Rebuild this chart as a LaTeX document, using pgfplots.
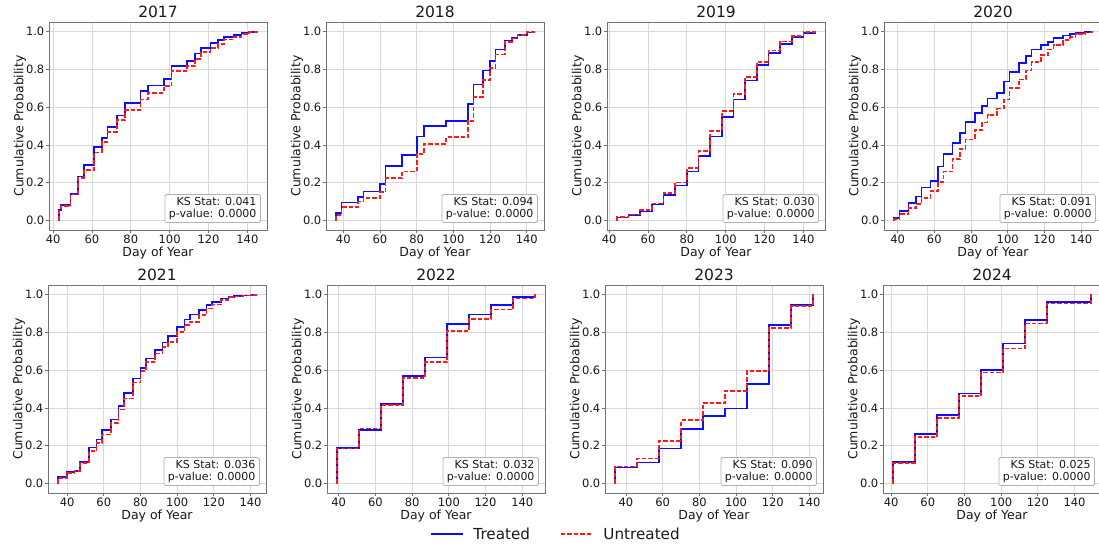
\documentclass[border=0pt]{standalone}
\usepackage{fontspec}
\setmainfont{DejaVu Sans}
\usepackage{pgfplots}
\pgfplotsset{compat=1.18}
\definecolor{frame}{gray}{0.45}
\definecolor{gridc}{gray}{0.85}
\definecolor{txt}{gray}{0.1}
\pgfplotsset{
  panel/.style={
    scale only axis, width=218pt, height=208pt,
    anchor=north west,
    ymin=-0.05, ymax=1.05,
    ytick={0,0.2,0.4,0.6,0.8,1.0},
    xtick={40,60,80,100,120,140},
    yticklabel style={/pgf/number format/fixed, /pgf/number format/fixed zerofill, /pgf/number format/precision=1, inner sep=1.5pt},
    /pgf/number format/assume math mode=true,
    grid=major, major grid style={gridc, line width=0.8pt},
    axis line style={frame, line width=0.8pt},
    tick style={frame, line width=0.8pt},
    tick align=outside, major tick length=3pt, tick pos=left,
    tick label style={font=\fontsize{11.5}{13}\selectfont, text=txt},
    xticklabel style={inner sep=1.5pt},
    xlabel={Day of Year}, ylabel={Cumulative Probability},
    label style={font=\fontsize{12.5}{14}\selectfont, text=txt},
    xlabel style={at={(axis description cs:0.5,0)}, anchor=north, inner sep=0pt, yshift=-17pt},
    ylabel style={at={(axis description cs:-0.133,0.5)}, anchor=center, inner sep=0pt},
    title style={font=\fontsize{15.5}{17}\selectfont, text=txt, inner sep=3pt, yshift=-4.5pt},
  },
  treated/.style={const plot, color={rgb,1:red,0.05;green,0.05;blue,1}, line width=1.7pt},
  untreated/.style={const plot, color={rgb,1:red,1;green,0.1;blue,0.1}, line width=1.7pt, dash pattern=on 4.5pt off 2pt},
}
\newcommand{\ksbox}[1]{\node[anchor=south east, draw=gray!60, fill=white, rounded corners=1.5pt, align=right, font=\fontsize{11}{12.5}\selectfont, text=txt, inner xsep=4pt, inner ysep=2.5pt, line width=0.8pt] at (rel axis cs:0.972,0.034) {KS Stat: #1\\p-value: 0.0000};}
\begin{document}
\begin{tikzpicture}
\useasboundingbox (0,0) rectangle (1099pt,-544pt);
% 2017
\begin{axis}[panel, at={(49pt,-22pt)}, title={2017}, xmin=37.9, xmax=150.1]
\addplot[treated] coordinates {(43,0)(43,0.055)(44,0.082)(49,0.14)(53,0.233)(56,0.295)(61,0.389)(65,0.438)(68,0.496)(73,0.556)(77,0.62)(85,0.684)(89,0.714)(97,0.75)(101,0.816)(109,0.843)(113,0.883)(116,0.913)(121,0.938)(125,0.954)(128,0.972)(133,0.98)(137,0.99)(141,0.997)(145,1)};
\addplot[untreated] coordinates {(43,0)(43,0.05)(44,0.076)(49,0.138)(53,0.225)(56,0.269)(61,0.36)(65,0.415)(68,0.468)(73,0.53)(77,0.583)(85,0.64)(89,0.675)(97,0.71)(101,0.79)(109,0.816)(113,0.855)(116,0.89)(121,0.913)(125,0.932)(128,0.957)(133,0.97)(137,0.985)(141,0.997)(145,1)};
\ksbox{0.041}
\end{axis}
% 2018
\begin{axis}[panel, at={(326pt,-22pt)}, title={2018}, xmin=30.6, xmax=149.4]
\addplot[treated] coordinates {(36,0)(36,0.039)(39,0.095)(48,0.125)(51,0.154)(60,0.194)(63,0.29)(72,0.345)(80,0.445)(84,0.5)(96,0.527)(108,0.618)(111,0.72)(116,0.793)(120,0.843)(123,0.905)(128,0.952)(132,0.966)(135,0.98)(140,0.995)(144,1)};
\addplot[untreated] coordinates {(36,0)(36,0.03)(39,0.07)(48,0.1)(51,0.118)(60,0.15)(63,0.224)(72,0.26)(80,0.353)(84,0.406)(96,0.44)(108,0.528)(111,0.652)(116,0.745)(120,0.807)(123,0.878)(128,0.945)(132,0.962)(135,0.98)(140,0.997)(144,1)};
\ksbox{0.094}
\end{axis}
% 2019
\begin{axis}[panel, at={(607pt,-22pt)}, title={2019}, xmin=38.9, xmax=151.1]
\addplot[treated] coordinates {(44,0)(44,0.016)(50,0.03)(56,0.048)(62,0.085)(68,0.136)(74,0.186)(80,0.26)(86,0.34)(92,0.445)(98,0.548)(104,0.64)(110,0.74)(116,0.823)(122,0.887)(128,0.935)(134,0.97)(140,0.993)(146,1)};
\addplot[untreated] coordinates {(44,0)(44,0.018)(50,0.032)(56,0.055)(62,0.09)(68,0.145)(74,0.201)(80,0.277)(86,0.369)(92,0.475)(98,0.578)(104,0.67)(110,0.76)(116,0.837)(122,0.9)(128,0.947)(134,0.975)(140,0.996)(146,1)};
\ksbox{0.030}
\end{axis}
% 2020
\begin{axis}[panel, at={(884pt,-22pt)}, title={2020}, xmin=32.6, xmax=151.4]
\addplot[treated] coordinates {(38,0)(38,0.015)(41,0.051)(46,0.092)(50,0.127)(53,0.175)(58,0.21)(62,0.286)(65,0.353)(70,0.41)(74,0.463)(77,0.521)(82,0.569)(86,0.604)(89,0.645)(94,0.675)(98,0.735)(101,0.786)(106,0.834)(110,0.869)(113,0.905)(118,0.928)(122,0.945)(125,0.966)(130,0.979)(134,0.988)(137,0.993)(142,0.997)(146,1)};
\addplot[untreated] coordinates {(38,0)(38,0.01)(41,0.034)(46,0.065)(50,0.088)(53,0.118)(58,0.157)(62,0.205)(65,0.26)(70,0.325)(74,0.38)(77,0.428)(82,0.48)(86,0.519)(89,0.56)(94,0.592)(98,0.64)(101,0.7)(106,0.746)(110,0.793)(113,0.837)(118,0.875)(122,0.905)(125,0.93)(130,0.954)(134,0.97)(137,0.985)(142,0.995)(146,1)};
\ksbox{0.091}
\end{axis}
% 2021
\begin{axis}[panel, at={(48pt,-285pt)}, title={2021}, xmin=29.6, xmax=148.4]
\addplot[treated] coordinates {(35,0)(35,0.035)(40,0.062)(44,0.066)(47,0.115)(52,0.19)(56,0.233)(59,0.282)(64,0.339)(68,0.41)(71,0.48)(76,0.556)(80,0.612)(83,0.661)(88,0.705)(92,0.746)(95,0.78)(100,0.829)(104,0.868)(107,0.894)(112,0.917)(116,0.944)(119,0.961)(124,0.979)(128,0.988)(131,0.992)(136,0.995)(140,0.997)(143,1)};
\addplot[untreated] coordinates {(35,0)(35,0.03)(40,0.055)(44,0.065)(47,0.11)(52,0.171)(56,0.215)(59,0.259)(64,0.321)(68,0.392)(71,0.45)(76,0.534)(80,0.594)(83,0.644)(88,0.688)(92,0.723)(95,0.75)(100,0.8)(104,0.838)(107,0.855)(112,0.89)(116,0.926)(119,0.947)(124,0.97)(128,0.985)(131,0.99)(136,0.995)(140,0.997)(143,1)};
\ksbox{0.036}
\end{axis}
% 2022
\begin{axis}[panel, at={(327pt,-285pt)}, title={2022}, xmin=33.6, xmax=152.4,
  legend style={at={(1.05,-0.197)}, anchor=center, draw=none, fill=none,
    legend columns=2, font=\fontsize{15.2}{17}\selectfont, text=txt,
    /tikz/every odd column/.append style={column sep=8pt},
    /tikz/every even column/.append style={column sep=28pt}},
  legend cell align=left,
  legend image code/.code={\draw[#1, line width=1.4pt] plot coordinates {(0pt,0pt) (32pt,0pt)};}]
\addplot[treated] coordinates {(39,0)(39,0.189)(51,0.282)(63,0.42)(75,0.57)(87,0.667)(99,0.843)(111,0.894)(123,0.944)(135,0.988)(147,1)};
\addlegendentry{Treated}
\addplot[untreated] coordinates {(39,0)(39,0.185)(51,0.291)(63,0.415)(75,0.559)(87,0.644)(99,0.808)(111,0.87)(123,0.921)(135,0.979)(147,1)};
\addlegendentry{Untreated}
\ksbox{0.032}
\end{axis}
% 2023
\begin{axis}[panel, at={(605pt,-285pt)}, title={2023}, xmin=28.6, xmax=147.4]
\addplot[treated] coordinates {(34,0)(34,0.085)(46,0.111)(58,0.185)(70,0.287)(82,0.358)(94,0.397)(106,0.526)(118,0.838)(130,0.944)(142,1)};
\addplot[untreated] coordinates {(34,0)(34,0.09)(46,0.132)(58,0.226)(70,0.335)(82,0.427)(94,0.489)(106,0.594)(118,0.824)(130,0.94)(142,1)};
\ksbox{0.090}
\end{axis}
% 2024
\begin{axis}[panel, at={(883pt,-285pt)}, title={2024}, xmin=35.6, xmax=154.4]
\addplot[treated] coordinates {(41,0)(41,0.115)(53,0.261)(65,0.362)(77,0.476)(89,0.6)(101,0.741)(113,0.864)(125,0.96)(149,1)};
\addplot[untreated] coordinates {(41,0)(41,0.11)(53,0.247)(65,0.346)(77,0.462)(89,0.587)(101,0.714)(113,0.847)(125,0.952)(149,1)};
\ksbox{0.025}
\end{axis}
\end{tikzpicture}
\end{document}
